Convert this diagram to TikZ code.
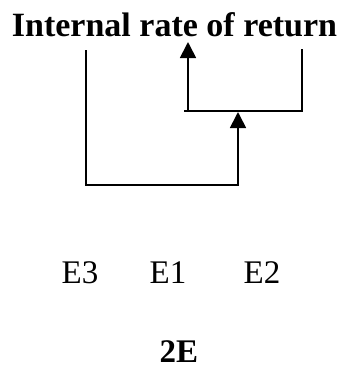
\documentclass[tikz,border=0pt]{standalone}
\usepackage{fontspec}
\setmainfont{Liberation Serif}
\usetikzlibrary{arrows.meta}
\begin{document}
\begin{tikzpicture}[x=1pt,y=-1pt,
  conn/.style={line width=1.7pt,black},
  arr/.style={conn,-{Triangle[length=16pt,width=16pt]}},
  lbl/.style={font=\fontsize{33}{36}\selectfont,anchor=base,inner sep=0pt}]
\useasboundingbox (0,0) rectangle (347,370);
\node[lbl,font=\fontsize{34}{38}\selectfont\bfseries] (title) at (174.5,36) {Internal rate of return};
\node[lbl] (e3) at (80,283) {E3};
\node[lbl] (e1) at (168,283) {E1};
\node[lbl] (e2) at (262,283) {E2};
\node[lbl,font=\fontsize{33}{36}\selectfont\bfseries] (twoe) at (179,362) {2E};
\coordinate (a1) at (86,50);
\coordinate (b0) at (238,185);
\coordinate (b1) at (238,112);
\coordinate (c3) at (302,49);
\coordinate (c1) at (184,111);
\coordinate (d0) at (188,111);
\coordinate (d1) at (188,42);
\draw[arr] (a1) |- (b0) -- (b1);
\draw[conn] (c3) |- (c1);
\draw[arr] (d0) -- (d1);
\end{tikzpicture}
\end{document}
